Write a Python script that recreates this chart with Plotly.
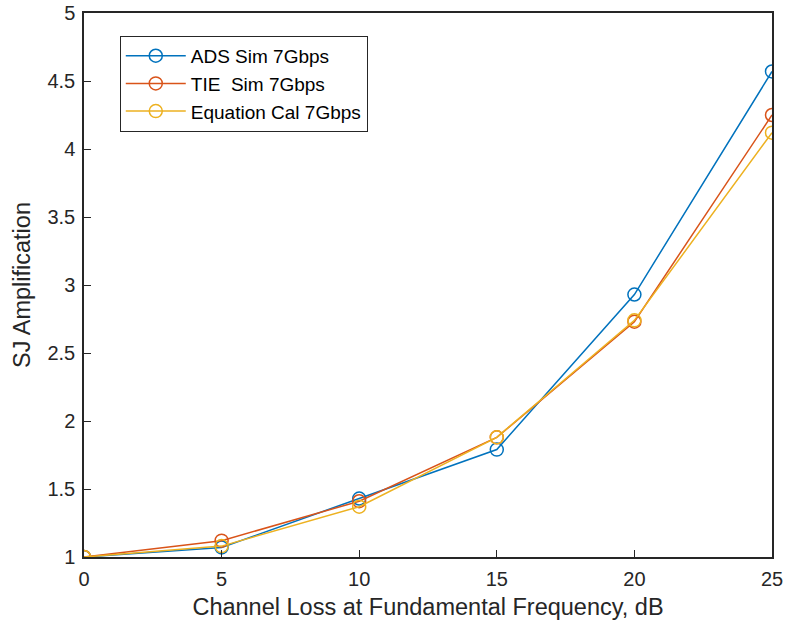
import plotly.graph_objects as go

x_loss = [0, 5, 10, 15, 20, 25]
ads_sim = [1.00, 1.07, 1.43, 1.79, 2.93, 4.57]
tie_sim = [1.00, 1.12, 1.41, 1.88, 2.73, 4.25]
eq_cal = [1.00, 1.08, 1.37, 1.88, 2.74, 4.12]

names = ["ADS Sim 7Gbps", "TIE  Sim 7Gbps", "Equation Cal 7Gbps"]
colors = ["#0072BD", "#D95319", "#EDB120"]

fig = go.Figure()
for name, ys, c in zip(names, [ads_sim, tie_sim, eq_cal], colors):
    fig.add_trace(go.Scatter(
        x=x_loss, y=ys, name=name, mode="lines+markers",
        line=dict(color=c, width=1.5),
        marker=dict(symbol="circle-open", size=13, color=c, line=dict(width=1.5, color=c)),
    ))

axis_common = dict(
    showline=True, linecolor="#262626", linewidth=1.5, mirror=True,
    ticks="inside", ticklen=7, tickcolor="#262626", tickwidth=1.2,
    showgrid=False, zeroline=False, automargin=False, ticklabelstandoff=3,
    tickfont=dict(family="Liberation Sans, Arial", size=20, color="#262626"),
)

fig.update_layout(
    width=786, height=627,
    margin=dict(l=84, r=14, t=13, b=70, autoexpand=False),
    paper_bgcolor="white", plot_bgcolor="white",
    font=dict(family="Liberation Sans, Arial", color="#262626"),
    xaxis=dict(range=[0, 25], tickvals=[0, 5, 10, 15, 20, 25],
               title=dict(text="Channel Loss at Fundamental Frequency, dB",
                          font=dict(size=23.5), standoff=10),
               **axis_common),
    yaxis=dict(range=[1, 5], tickvals=[1, 1.5, 2, 2.5, 3, 3.5, 4, 4.5, 5],
               ticktext=["1", "1.5", "2", "2.5", "3", "3.5", "4", "4.5", "5"],
               title=dict(text="SJ Amplification", font=dict(size=23.5), standoff=10),
               **axis_common),
    legend=dict(x=0.052, y=0.958, xanchor="left", yanchor="top",
                bgcolor="white", bordercolor="#262626", borderwidth=1,
                font=dict(size=19, color="#000000"), itemwidth=60,
                tracegroupgap=0),
    showlegend=True,
)

fig.write_html("out.html")
